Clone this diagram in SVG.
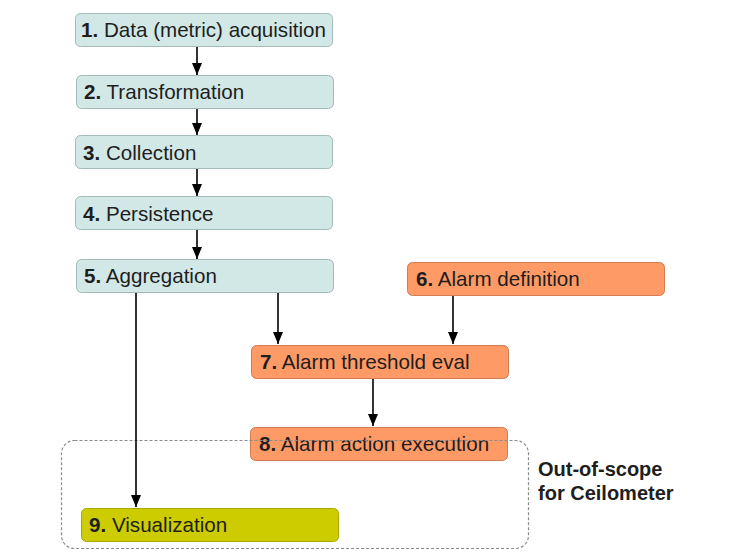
<svg xmlns="http://www.w3.org/2000/svg" width="747" height="560" viewBox="0 0 747 560">
<style>
.box{stroke-width:1}
.teal{fill:#d2e8e6;stroke:#a3bbb9}
.orange{fill:#fe9a66;stroke:#d27c52}
.yellow{fill:#cccc00;stroke:#a8a800}
.lbl{font-family:"Liberation Sans",Arial,sans-serif;font-size:20.6px;fill:#1e1e1e}
.lbl tspan.n{font-weight:bold}
.conn{stroke:#000;stroke-width:1.6;fill:none}
.scope{fill:none;stroke:#8c8c8c;stroke-width:1.2;stroke-dasharray:3,2}
.note{font-family:"Liberation Sans",Arial,sans-serif;font-size:20px;font-weight:bold;fill:#1e1e1e}
</style>
<defs>
<marker id="arr" viewBox="0 0 12 10" refX="12" refY="5" markerWidth="12" markerHeight="10" markerUnits="userSpaceOnUse" orient="auto">
<path d="M0,0 L12,5 L0,10 Z" fill="#000"/>
</marker>
</defs>
<g id="n1"><rect class="box teal" x="75.5" y="13.5" width="257" height="33" rx="5"/><text class="lbl" x="81" y="37"><tspan class="n">1.</tspan> Data (metric) acquisition</text></g>
<g id="n2"><rect class="box teal" x="76.5" y="75.5" width="257" height="33" rx="5"/><text class="lbl" x="84" y="99"><tspan class="n">2.</tspan> Transformation</text></g>
<g id="n3"><rect class="box teal" x="75.5" y="135.5" width="257" height="33" rx="5"/><text class="lbl" x="83" y="160"><tspan class="n">3.</tspan> Collection</text></g>
<g id="n4"><rect class="box teal" x="75.5" y="196.5" width="257" height="33" rx="5"/><text class="lbl" x="83" y="221"><tspan class="n">4.</tspan> Persistence</text></g>
<g id="n5"><rect class="box teal" x="76.5" y="259.5" width="257" height="33" rx="5"/><text class="lbl" x="84" y="283"><tspan class="n">5.</tspan> Aggregation</text></g>
<g id="n6"><rect class="box orange" x="407.5" y="262.5" width="257" height="33" rx="5"/><text class="lbl" x="416" y="286"><tspan class="n">6.</tspan> Alarm definition</text></g>
<g id="n7"><rect class="box orange" x="251.5" y="345.5" width="257" height="33" rx="5"/><text class="lbl" x="260" y="369"><tspan class="n">7.</tspan> Alarm threshold eval</text></g>
<g id="n8"><rect class="box orange" x="250.5" y="427.5" width="257" height="33" rx="5"/><text class="lbl" x="259" y="451"><tspan class="n">8.</tspan> Alarm action execution</text></g>
<g id="n9"><rect class="box yellow" x="81.5" y="508.5" width="257" height="33" rx="5"/><text class="lbl" x="89" y="532"><tspan class="n">9.</tspan> Visualization</text></g>
<g id="scope"><rect class="scope" x="61.5" y="440.5" width="467" height="108" rx="13"/>
<text class="note" x="538" y="476">Out-of-scope</text><text class="note" x="538" y="500">for Ceilometer</text></g>
<g id="connectors">
<line class="conn" x1="197" y1="47" x2="197" y2="75" marker-end="url(#arr)"/>
<line class="conn" x1="197" y1="109" x2="197" y2="135" marker-end="url(#arr)"/>
<line class="conn" x1="197" y1="169" x2="197" y2="196" marker-end="url(#arr)"/>
<line class="conn" x1="197" y1="230" x2="197" y2="259" marker-end="url(#arr)"/>
<line class="conn" x1="278" y1="293" x2="278" y2="344" marker-end="url(#arr)"/>
<line class="conn" x1="453" y1="296" x2="453" y2="344" marker-end="url(#arr)"/>
<line class="conn" x1="136" y1="293" x2="136" y2="507" marker-end="url(#arr)"/>
<line class="conn" x1="373" y1="379" x2="373" y2="426" marker-end="url(#arr)"/>
</g>
</svg>
